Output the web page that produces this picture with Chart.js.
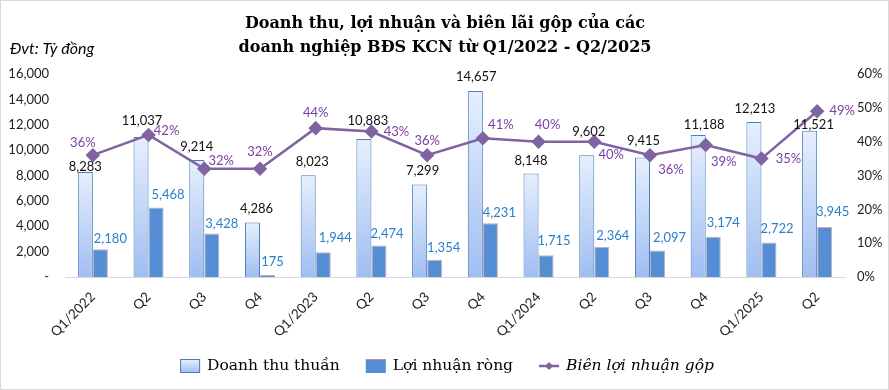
<!DOCTYPE html>
<html>
<head>
<meta charset="utf-8">
<script src="https://cdn.jsdelivr.net/npm/chart.js@4.4.1/dist/chart.umd.min.js"></script>
<style>
  html, body { margin: 0; padding: 0; background: #fff; }
</style>
</head>
<body>
<canvas id="kcnChart" width="889" height="390"></canvas>
<script>
const quarters = ["Q1/2022", "Q2", "Q3", "Q4", "Q1/2023", "Q2", "Q3", "Q4", "Q1/2024", "Q2", "Q3", "Q4", "Q1/2025", "Q2"];
const revenue = [8283, 11037, 9214, 4286, 8023, 10883, 7299, 14657, 8148, 9602, 9415, 11188, 12213, 11521];
const netProfit = [2180, 5468, 3428, 175, 1944, 2474, 1354, 4231, 1715, 2364, 2097, 3174, 2722, 3945];
const grossMargin = [36, 42, 32, 32, 44, 43, 36, 41, 40, 40, 36, 39, 35, 49];
const seriesNames = ["Doanh thu thuần", "Lợi nhuận ròng", "Biên lợi nhuận gộp"];
const titleLines = ["Doanh thu, lợi nhuận và biên lãi gộp của các", "doanh nghiệp BĐS KCN từ Q1/2022 - Q2/2025"];
const unitNote = "Đvt: Tỷ đồng";

// label nudges (dx, dy) from the bar top / point, like Excel moved them
const revenueShift = [[0,-5],[1,-16],[0,-13],[4,-14],[4,-13],[4,-18],[3,-14],[1,-14],[0,-13],[2,-23],[1,-17],[6,-10],[1,-13],[4,-6]];
const profitShift = [[10,-11],[12,-13],[10,-10],[5,-13],[12,-15],[8,-12],[9,-12],[9,-11],[8,-14],[11,-11],[12,-13],[10,-14],[8,-14],[8,-15]];
const marginShift = [[-10,-12],[18,-4],[17,-8],[0,-17],[0,-15],[25,0],[0,-14],[18,-13],[9,-17],[17,13],[21,15],[18,17],[27,0],[25,0]];

const BLUE_EDGE = "#4a7ebb";
const PROFIT_BLUE = "#558ed5";
const PURPLE = "#8064a2";

function barGradient(ctx2d, top, bottom) {
  const g = ctx2d.createLinearGradient(0, top, 0, bottom);
  g.addColorStop(0, "#e6effd");
  g.addColorStop(1, "#a0bef2");
  return g;
}

const valueLabels = {
  id: "valueLabels",
  afterDatasetsDraw(chart) {
    const ctx = chart.ctx;
    const sets = [
      { meta: chart.getDatasetMeta(0), vals: revenue, shift: revenueShift, color: "#111111", fmt: v => v.toLocaleString("en-US") },
      { meta: chart.getDatasetMeta(1), vals: netProfit, shift: profitShift, color: "#2a7fcb", fmt: v => v.toLocaleString("en-US") },
      { meta: chart.getDatasetMeta(2), vals: grossMargin, shift: marginShift, color: "#7a3ea3", fmt: v => v + "%" }
    ];
    ctx.save();
    ctx.font = "13px Lato";
    ctx.textAlign = "center";
    ctx.textBaseline = "middle";
    sets.forEach(s => {
      ctx.fillStyle = s.color;
      s.meta.data.forEach((el, i) => {
        ctx.fillText(s.fmt(s.vals[i]), el.x + s.shift[i][0], el.y + s.shift[i][1]);
      });
    });
    ctx.restore();
  }
};

const decorations = {
  id: "decorations",
  beforeDraw(chart) {
    const ctx = chart.ctx;
    ctx.save();
    ctx.fillStyle = "#ffffff";
    ctx.fillRect(0, 0, chart.width, chart.height);
    ctx.restore();
  },
  afterDraw(chart) {
    const ctx = chart.ctx;
    ctx.save();
    ctx.strokeStyle = "#d9d9d9";
    ctx.lineWidth = 1;
    ctx.strokeRect(0.5, 0.5, chart.width - 1, chart.height - 1);

    // title
    ctx.fillStyle = "#000";
    ctx.textAlign = "center";
    ctx.textBaseline = "middle";
    ctx.font = "bold 16px 'DejaVu Serif'";
    ctx.fillText(titleLines[0], 445, 24);
    ctx.fillText(titleLines[1], 445, 48);

    // unit
    ctx.textAlign = "left";
    ctx.font = "italic 16px Lato";
    ctx.fillText(unitNote, 10, 49);

    // legend
    const y = 366;
    const fonts = ["15.5px 'DejaVu Serif'", "15.5px 'DejaVu Serif'", "italic 15.5px 'DejaVu Serif'"];
    const sw = 20, gap = 7, spacing = 26;
    const widths = seriesNames.map((n, i) => { ctx.font = fonts[i]; return ctx.measureText(n).width; });
    const total = widths.reduce((a, w) => a + sw + gap + w, 0) + spacing * (seriesNames.length - 1);
    let x = 447 - total / 2;
    seriesNames.forEach((name, i) => {
      if (i === 0) {
        ctx.fillStyle = barGradient(ctx, y - 7, y + 7);
        ctx.fillRect(x, y - 7, sw, 14);
        ctx.strokeStyle = BLUE_EDGE;
        ctx.strokeRect(x + 0.5, y - 6.5, sw - 1, 13);
      } else if (i === 1) {
        ctx.fillStyle = PROFIT_BLUE;
        ctx.fillRect(x, y - 7, sw, 14);
        ctx.strokeStyle = "#d08c84";
        ctx.beginPath(); ctx.moveTo(x, y - 6.5); ctx.lineTo(x + sw, y - 6.5); ctx.stroke();
      } else {
        ctx.strokeStyle = PURPLE;
        ctx.lineWidth = 2.5;
        ctx.beginPath(); ctx.moveTo(x, y); ctx.lineTo(x + sw, y); ctx.stroke();
        ctx.fillStyle = PURPLE;
        ctx.beginPath();
        ctx.moveTo(x + sw / 2, y - 4); ctx.lineTo(x + sw / 2 + 4, y);
        ctx.lineTo(x + sw / 2, y + 4); ctx.lineTo(x + sw / 2 - 4, y);
        ctx.closePath(); ctx.fill();
        ctx.lineWidth = 1;
      }
      ctx.fillStyle = "#000";
      ctx.font = fonts[i];
      ctx.textAlign = "left";
      ctx.fillText(name, x + sw + gap, y);
      x += sw + gap + widths[i] + spacing;
    });
    ctx.restore();
  }
};

new Chart(document.getElementById("kcnChart").getContext("2d"), {
  type: "bar",
  data: {
    labels: quarters,
    datasets: [
      {
        label: seriesNames[0],
        data: revenue,
        yAxisID: "y",
        order: 2,
        borderColor: BLUE_EDGE,
        borderWidth: 1,
        backgroundColor(c) {
          const ys = c.chart.scales.y;
          if (!ys || c.type !== "data") return "#c9dbf8";
          const top = ys.getPixelForValue(c.raw);
          const bottom = ys.getPixelForValue(0);
          if (!isFinite(top) || !isFinite(bottom) || top === bottom) return "#c9dbf8";
          return barGradient(c.chart.ctx, top, bottom);
        },
        categoryPercentage: 0.54,
        barPercentage: 1
      },
      {
        label: seriesNames[1],
        data: netProfit,
        yAxisID: "y",
        order: 2,
        backgroundColor: PROFIT_BLUE,
        borderColor: "#c9aeb0",
        borderWidth: 1,
        categoryPercentage: 0.54,
        barPercentage: 1
      },
      {
        type: "line",
        label: seriesNames[2],
        data: grossMargin,
        yAxisID: "y1",
        order: 0,
        borderColor: PURPLE,
        borderWidth: 2.5,
        pointStyle: "rectRot",
        pointRadius: 5.5,
        pointBackgroundColor: PURPLE,
        pointBorderColor: PURPLE,
        tension: 0
      }
    ]
  },
  options: {
    responsive: false,
    animation: false,
    devicePixelRatio: 1,
    layout: { padding: { top: 74, left: 0, right: 0, bottom: 0 } },
    plugins: {
      legend: { display: false },
      title: { display: false },
      tooltip: { enabled: false }
    },
    scales: {
      x: {
        grid: { display: false, drawTicks: false },
        border: { display: true, color: "#d9d9d9", width: 1 },
        ticks: {
          color: "#222",
          font: { family: "Lato", size: 13.5 },
          maxRotation: 45,
          minRotation: 45,
          padding: 12,
          autoSkip: false
        },
        afterFit(scale) { scale.height = 113; }
      },
      y: {
        position: "left",
        min: 0,
        max: 16000,
        grid: { display: false, drawTicks: false },
        border: { display: false },
        ticks: {
          stepSize: 2000,
          color: "#222",
          padding: 16,
          font: { family: "Lato", size: 13 },
          callback: v => (v === 0 ? "-" : v.toLocaleString("en-US"))
        },
        afterFit(scale) { scale.width = 65; }
      },
      y1: {
        position: "right",
        min: 0,
        max: 60,
        grid: { display: false, drawTicks: false },
        border: { display: false },
        ticks: {
          stepSize: 10,
          color: "#222",
          padding: 12,
          font: { family: "Lato", size: 13 },
          callback: v => v + "%"
        },
        afterFit(scale) { scale.width = 44; }
      }
    }
  },
  plugins: [decorations, valueLabels]
});
</script>
</body>
</html>
